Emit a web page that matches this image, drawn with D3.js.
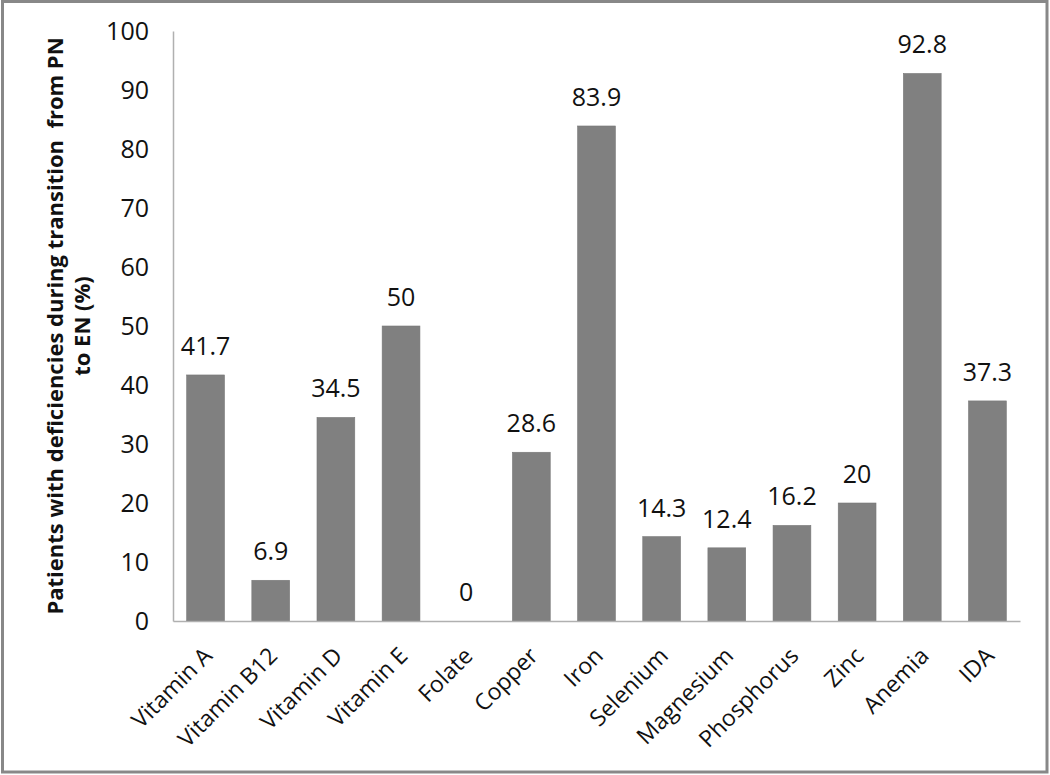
<!DOCTYPE html>
<html>
<head>
<meta charset="utf-8">
<script src="https://cdn.jsdelivr.net/npm/d3@7"></script>
<style>
  body { margin: 0; background: #fff; }
  svg { display: block; font-family: "Open Sans", "Liberation Sans", sans-serif; }
</style>
</head>
<body>
<svg id="chart"></svg>
<script>
const categories = ['Vitamin A', 'Vitamin B12', 'Vitamin D', 'Vitamin E', 'Folate', 'Copper', 'Iron',
    'Selenium', 'Magnesium', 'Phosphorus', 'Zinc', 'Anemia', 'IDA'];
const values = [41.7, 6.9, 34.5, 50, 0, 28.6, 83.9, 14.3, 12.4, 16.2, 20, 92.8, 37.3];
const yTicks = [0, 10, 20, 30, 40, 50, 60, 70, 80, 90, 100];
const yTitle = ['Patients with deficiencies during transition  from PN', 'to EN (%)'];

const W = 1050, H = 775;
const margin = { top: 31, right: 30, bottom: 154, left: 173 };
const width = W - margin.left - margin.right;
const height = H - margin.top - margin.bottom;
const fs = 25;

const root = d3.select('#chart').attr('width', W).attr('height', H);

// frame round the picture
root.append('rect')
    .attr('x', 2.5).attr('y', 1.5)
    .attr('width', W - 5.5).attr('height', H - 4.5)
    .attr('fill', 'none')
    .attr('stroke', '#888')
    .attr('stroke-width', 3);

const svg = root.append('g')
    .attr('transform', `translate(${margin.left},${margin.top})`);

const x = d3.scaleBand()
    .domain(categories)
    .range([0, width])
    .paddingInner(0.42)
    .paddingOuter(0.21);

const y = d3.scaleLinear()
    .domain([0, 100])
    .range([height, 0]);

// y axis
const yAxis = svg.append('g')
    .call(d3.axisLeft(y).tickValues(yTicks).tickSize(0).tickPadding(24));
yAxis.attr('font-size', fs).attr('font-family', null);
yAxis.select('.domain').attr('stroke', '#b0b0b0').attr('stroke-width', 1.5);
yAxis.selectAll('text').attr('fill', '#111');

// bars
svg.selectAll('.bar')
    .data(values)
    .enter()
    .append('rect')
    .attr('class', 'bar')
    .attr('x', (d, i) => x(categories[i]))
    .attr('y', d => y(d))
    .attr('width', x.bandwidth())
    .attr('height', d => height - y(d))
    .attr('fill', '#808080')
    .attr('stroke', '#777')
    .attr('stroke-width', 0.6);

// value labels
svg.selectAll('.val')
    .data(values)
    .enter()
    .append('text')
    .attr('class', 'val')
    .attr('x', (d, i) => x(categories[i]) + x.bandwidth() / 2)
    .attr('y', d => y(d) - 20)
    .attr('text-anchor', 'middle')
    .attr('font-size', fs)
    .attr('fill', '#111')
    .text(d => d);

// x axis
const xAxis = svg.append('g')
    .attr('transform', `translate(0,${height})`)
    .call(d3.axisBottom(x).tickSize(0).tickSizeOuter(0));
xAxis.attr('font-size', 23).attr('font-family', null);
xAxis.select('.domain').attr('stroke', '#b0b0b0').attr('stroke-width', 1.5);
xAxis.selectAll('text')
    .attr('fill', '#111')
    .attr('text-anchor', 'end')
    .attr('x', -20)
    .attr('y', 15)
    .attr('dy', '0.71em')
    .attr('transform', 'rotate(-45)');

// y title
const title = svg.append('text')
    .attr('transform', `translate(${-margin.left + 63},${height / 2}) rotate(-90)`)
    .attr('text-anchor', 'middle')
    .attr('font-size', 22)
    .attr('font-weight', 'bold')
    .attr('fill', '#111')
    .style('white-space', 'pre');
title.selectAll('tspan')
    .data(yTitle)
    .enter()
    .append('tspan')
    .attr('x', 0)
    .attr('dy', (d, i) => i === 0 ? 0 : 27)
    .text(d => d);
</script>
</body>
</html>
